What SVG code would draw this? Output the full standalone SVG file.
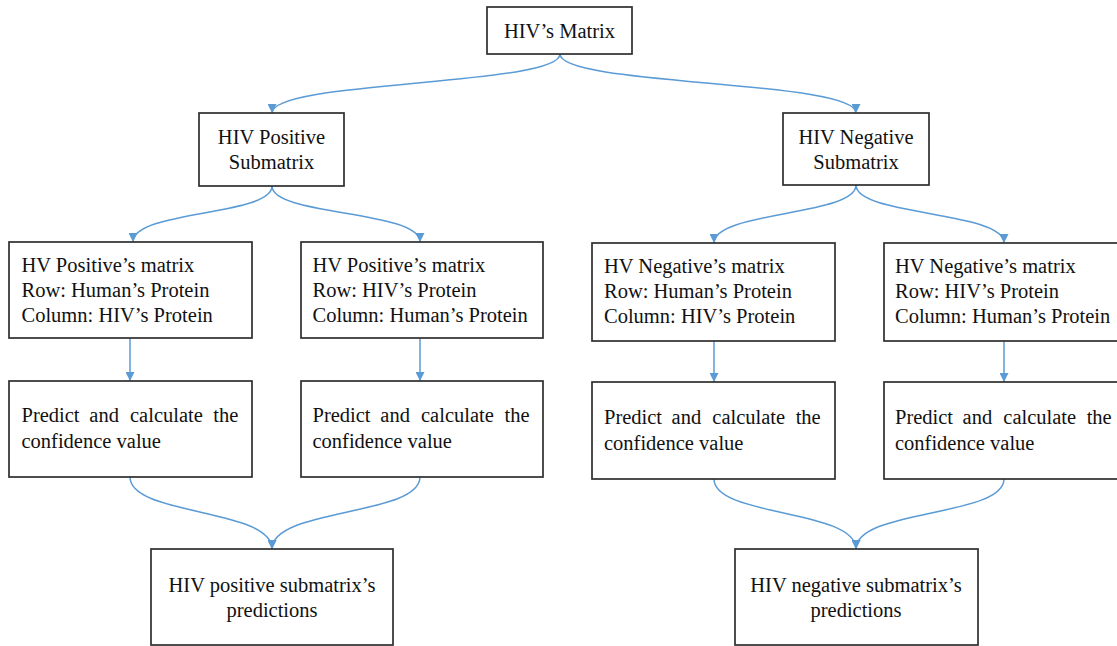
<svg xmlns="http://www.w3.org/2000/svg" width="1117" height="646" viewBox="0 0 1117 646">
<style>
.box{fill:#fff;stroke:#2e2e2e;stroke-width:1.7}
.t{font-family:"Liberation Serif","Times New Roman",serif;font-size:20.5px;fill:#111}
.c{text-anchor:middle}
.e{text-anchor:end}
.conn{fill:none;stroke:#5B9BD5;stroke-width:1.5}
</style>
<defs>
<marker id="arr" markerUnits="userSpaceOnUse" markerWidth="10" markerHeight="9" refX="9" refY="4.5" orient="auto">
<path d="M0,0 L9,4.5 L0,9 z" fill="#5B9BD5"/>
</marker>
</defs>
<rect width="1117" height="646" fill="#fff"/>

<g id="connectors">
<path class="conn" marker-end="url(#arr)" d="M560,54 C560,86 272,80 272,113"/>
<path class="conn" marker-end="url(#arr)" d="M560,54 C560,86 856,80 856,113"/>
<path class="conn" marker-end="url(#arr)" d="M272,186 C272,216 133,210 133,242"/>
<path class="conn" marker-end="url(#arr)" d="M272,186 C272,216 420,210 420,242"/>
<path class="conn" marker-end="url(#arr)" d="M856,185 C856,216 714,211 714,243"/>
<path class="conn" marker-end="url(#arr)" d="M856,185 C856,216 1004,211 1004,243"/>
<path class="conn" marker-end="url(#arr)" d="M130,338 L130,381"/>
<path class="conn" marker-end="url(#arr)" d="M420,338 L420,381"/>
<path class="conn" marker-end="url(#arr)" d="M714,341 L714,382"/>
<path class="conn" marker-end="url(#arr)" d="M1004,341 L1004,382"/>
<path class="conn" marker-end="url(#arr)" d="M130,477 C130,516 272,508 272,549"/>
<path class="conn" marker-end="url(#arr)" d="M420,477 C420,516 272,508 272,549"/>
<path class="conn" marker-end="url(#arr)" d="M714,479 C714,517 856,509 856,549"/>
<path class="conn" marker-end="url(#arr)" d="M1004,479 C1004,517 856,509 856,549"/>
</g>

<g id="hiv-matrix">
<rect class="box" x="487" y="7" width="145" height="47"/>
<text class="t c" x="559.5" y="38">HIV’s Matrix</text>
</g>

<g id="pos-submatrix">
<rect class="box" x="199" y="113" width="145" height="73"/>
<text class="t c" x="271.5" y="144">HIV Positive</text>
<text class="t c" x="271.5" y="169">Submatrix</text>
</g>

<g id="neg-submatrix">
<rect class="box" x="783" y="113" width="146" height="72"/>
<text class="t c" x="856" y="144">HIV Negative</text>
<text class="t c" x="856" y="169">Submatrix</text>
</g>

<g id="pos-matrix-a">
<rect class="box" x="9" y="242" width="243" height="96"/>
<text class="t" x="21.5" y="272">HV Positive’s matrix</text>
<text class="t" x="21.5" y="297">Row: Human’s Protein</text>
<text class="t" x="21.5" y="322">Column: HIV’s Protein</text>
</g>

<g id="pos-matrix-b">
<rect class="box" x="301" y="242" width="242" height="96"/>
<text class="t" x="312.5" y="272">HV Positive’s matrix</text>
<text class="t" x="312.5" y="297">Row: HIV’s Protein</text>
<text class="t" x="312.5" y="322">Column: Human’s Protein</text>
</g>

<g id="neg-matrix-a">
<rect class="box" x="592" y="243" width="243" height="98"/>
<text class="t" x="604" y="273">HV Negative’s matrix</text>
<text class="t" x="604" y="298">Row: Human’s Protein</text>
<text class="t" x="604" y="323">Column: HIV’s Protein</text>
</g>

<g id="neg-matrix-b">
<rect class="box" x="884" y="243" width="243" height="98"/>
<text class="t" x="895" y="273">HV Negative’s matrix</text>
<text class="t" x="895" y="298">Row: HIV’s Protein</text>
<text class="t" x="895" y="323">Column: Human’s Protein</text>
</g>

<g id="predict-pos-a">
<rect class="box" x="9" y="381" width="243" height="96"/>
<text class="t" y="422"><tspan x="21.5">Predict</tspan><tspan x="89.3">and</tspan><tspan x="130">calculate</tspan><tspan x="238.3" class="e">the</tspan></text>
<text class="t" x="21.5" y="448">confidence value</text>
</g>

<g id="predict-pos-b">
<rect class="box" x="301" y="381" width="242" height="96"/>
<text class="t" y="422"><tspan x="312.5">Predict</tspan><tspan x="380.3">and</tspan><tspan x="421">calculate</tspan><tspan x="529.5" class="e">the</tspan></text>
<text class="t" x="312.5" y="448">confidence value</text>
</g>

<g id="predict-neg-a">
<rect class="box" x="592" y="382" width="243" height="97"/>
<text class="t" y="424"><tspan x="604">Predict</tspan><tspan x="671.6">and</tspan><tspan x="712.3">calculate</tspan><tspan x="820.7" class="e">the</tspan></text>
<text class="t" x="604" y="450">confidence value</text>
</g>

<g id="predict-neg-b">
<rect class="box" x="884" y="382" width="243" height="97"/>
<text class="t" y="424"><tspan x="895">Predict</tspan><tspan x="962.6">and</tspan><tspan x="1003.3">calculate</tspan><tspan x="1111.7" class="e">the</tspan></text>
<text class="t" x="895" y="450">confidence value</text>
</g>

<g id="pos-predictions">
<rect class="box" x="151" y="549" width="242" height="96"/>
<text class="t c" x="272" y="592">HIV positive submatrix’s</text>
<text class="t c" x="272" y="617">predictions</text>
</g>

<g id="neg-predictions">
<rect class="box" x="735" y="549" width="243" height="96"/>
<text class="t c" x="856" y="592">HIV negative submatrix’s</text>
<text class="t c" x="856" y="617">predictions</text>
</g>
</svg>
